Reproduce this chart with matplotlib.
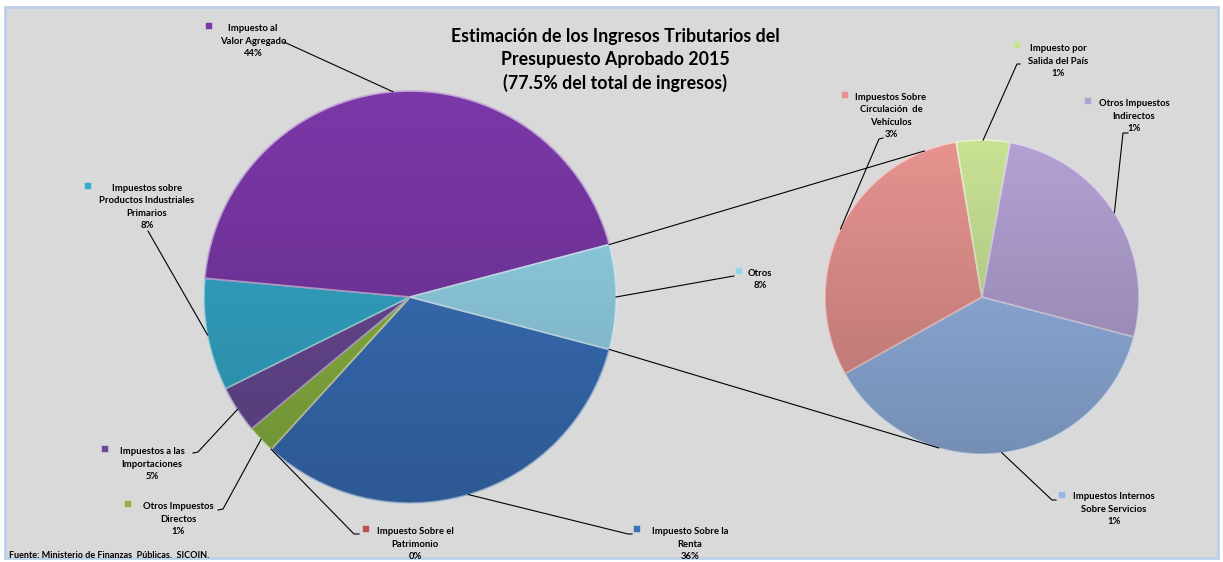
import matplotlib.pyplot as plt
import numpy as np
from matplotlib.patches import Rectangle, Circle
from matplotlib.colors import to_rgb

# main pie (percent of total), clockwise order as drawn by Excel; "Otros" last
main_names = ['Impuesto Sobre la\nRenta', 'Impuesto Sobre el\nPatrimonio',
              'Otros Impuestos\nDirectos', 'Impuestos a las\nImportaciones',
              'Impuestos sobre\nProductos Industriales\nPrimarios',
              'Impuesto al\nValor Agregado']
main_values = [32.7, 0.0, 2.2, 3.7, 8.8, 44.5]
main_pct = ['36%', '0%', '1%', '5%', '8%', '44%']
main_colors = ['#3A72BD', '#C0504D', '#8DB843', '#6B4B98', '#35AACB', '#7B38A8']

# secondary pie ("Otros" broken down)
sec_names = ['Impuestos Internos\nSobre Servicios', 'Impuestos Sobre\nCirculación  de\nVehículos',
             'Impuesto por\nSalida del País', 'Otros Impuestos\nIndirectos']
sec_values = [3.1, 2.5, 0.45, 2.15]
sec_pct = ['1%', '3%', '1%', '1%']
sec_colors = ['#96B6E6', '#E6938F', '#C8E294', '#B3A1D3']

otros_name = 'Otros'
otros_pct = '8%'
otros_color = '#95D5EA'

W, H = 1223, 562
LABEL_FONT = 'Lato'


def py(y):
    # pixel row (from top) -> data y
    return H - y


def lighter(c, f=0.5):
    r, g, b = to_rgb(c)
    return (r + (1 - r) * f, g + (1 - g) * f, b + (1 - b) * f)


def shade(ax, cx, cy, r):
    t = np.linspace(0, 1, 256).reshape(-1, 1)
    rgba = np.zeros((256, 1, 4))
    rgba[..., 3] = 0.22 * t
    im = ax.imshow(rgba, extent=(cx - r, cx + r, cy - r, cy + r), origin='upper',
                   zorder=2, interpolation='bilinear')
    im.set_clip_path(Circle((cx, cy), r, transform=ax.transData))


def point_on(cx, cy, r, ang):
    a = np.deg2rad(ang)
    return cx + r * np.cos(a), cy + r * np.sin(a)


def label(ax, text, cx, cy_mid, marker_xy, color, leader, target):
    ax.text(cx, py(cy_mid), text, ha='center', va='center', fontsize=6.8,
            fontweight='bold', family=LABEL_FONT, linespacing=1.5, zorder=5)
    mx, my = marker_xy
    ax.add_patch(Rectangle((mx - 3, py(my) - 3), 6, 6, facecolor=color,
                           edgecolor=color, lw=0.3, zorder=5))
    xs = [p[0] for p in leader] + [target[0]]
    ys = [py(p[1]) for p in leader] + [target[1]]
    ax.plot(xs, ys, color='black', lw=0.8, zorder=4)


def plot_chart():
    fig = plt.figure(figsize=(W / 100, H / 100), dpi=100)
    fig.patch.set_facecolor('white')
    ax = fig.add_axes([0, 0, 1, 1])

    ax.add_patch(Rectangle((5, 4), W - 10, H - 11, facecolor='#D9D9D9',
                           edgecolor='#BCD0EA', lw=2, zorder=0))

    # main pie
    mcx, mcy, mr = 410, py(297), 206
    values = main_values + [sum(sec_values)]
    colors = main_colors + [otros_color]
    otros_ang = 360 * values[-1] / sum(values)
    wedges, _ = ax.pie(values, colors=colors, startangle=-otros_ang / 2,
                       counterclock=False, center=(mcx, mcy), radius=mr,
                       wedgeprops=dict(linewidth=1.2))
    for w, c in zip(wedges, colors):
        w.set_edgecolor(lighter(c, 0.55))
        w.set_zorder(1)
    shade(ax, mcx, mcy, mr)

    # secondary pie
    scx, scy, sr = 982, py(297), 157
    swedges, _ = ax.pie(sec_values, colors=sec_colors, startangle=-14.7,
                        counterclock=False, center=(scx, scy), radius=sr,
                        wedgeprops=dict(linewidth=1.2))
    for w, c in zip(swedges, sec_colors):
        w.set_edgecolor(lighter(c, 0.55))
        w.set_zorder(1)
    shade(ax, scx, scy, sr)

    # connector lines between the two pies
    ow = wedges[-1]
    p1 = point_on(mcx, mcy, mr, ow.theta2)
    p2 = point_on(mcx, mcy, mr, ow.theta1)
    q1 = point_on(scx, scy, sr, 111.5)
    q2 = point_on(scx, scy, sr, -106)
    ax.plot([p1[0], q1[0]], [p1[1], q1[1]], color='black', lw=0.8, zorder=4)
    ax.plot([p2[0], q2[0]], [p2[1], q2[1]], color='black', lw=0.8, zorder=4)

    # label layout: (text center x, first line y, marker, leader points)
    main_layout = [
        (690, 531, (637, 529), [(632, 534), (628, 534)]),
        (415, 531, (366, 529), [(359, 534), (354, 534)]),
        (178, 506, (128, 504), [(218, 510), (223, 509)]),
        (152, 451, (105, 449), [(193, 453), (198, 452)]),
        (147, 187, (88, 186), [(148, 231)]),
        (253, 28, (209, 26), [(284, 42)]),
    ]
    sec_layout = [
        (1114, 496, (1062, 495), [(1056, 500), (1052, 500)]),
        (891, 96, (845, 95), [(883, 138), (879, 139)]),
        (1058, 48, (1017, 45), [(1020, 64), (1017, 64)]),
        (1134, 103, (1088, 101), [(1128, 133), (1123, 133)]),
    ]

    def put(name, pct, lay, w, color, cx, cy, r):
        tx, ty, mk, leader = lay
        text = name + '\n' + pct
        n = text.count('\n') + 1
        step = 13.4
        mid_y = ty + step * (n - 1) / 2
        target = point_on(cx, cy, r, (w.theta1 + w.theta2) / 2)
        label(ax, text, tx, mid_y, mk, color, leader, target)

    for name, pct, lay, w, c in zip(main_names, main_pct, main_layout, wedges, main_colors):
        put(name, pct, lay, w, c, mcx, mcy, mr)
    put(otros_name, otros_pct, (760, 273, (739, 271), [(734, 276), (728, 277)]),
        ow, otros_color, mcx, mcy, mr)
    for name, pct, lay, w, c in zip(sec_names, sec_pct, sec_layout, swedges, sec_colors):
        put(name, pct, lay, w, c, scx, scy, sr)

    # title and source
    ax.text(615, py(60), 'Estimación de los Ingresos Tributarios del\n'
            'Presupuesto Aprobado 2015\n(77.5% del total de ingresos)',
            ha='center', va='center', fontsize=12.8, fontweight='bold',
            family=LABEL_FONT, linespacing=1.42, zorder=5)
    ax.text(9, py(555), 'Fuente: Ministerio de Finanzas  Públicas.  SICOIN.',
            ha='left', va='center', fontsize=6.5, fontweight='bold',
            family=LABEL_FONT, zorder=5)

    ax.set_xlim(0, W)
    ax.set_ylim(0, H)
    ax.set_aspect('auto')
    ax.axis('off')
    fig.savefig('out.png', dpi=100, facecolor='white')


if __name__ == "__main__":
    plot_chart()
